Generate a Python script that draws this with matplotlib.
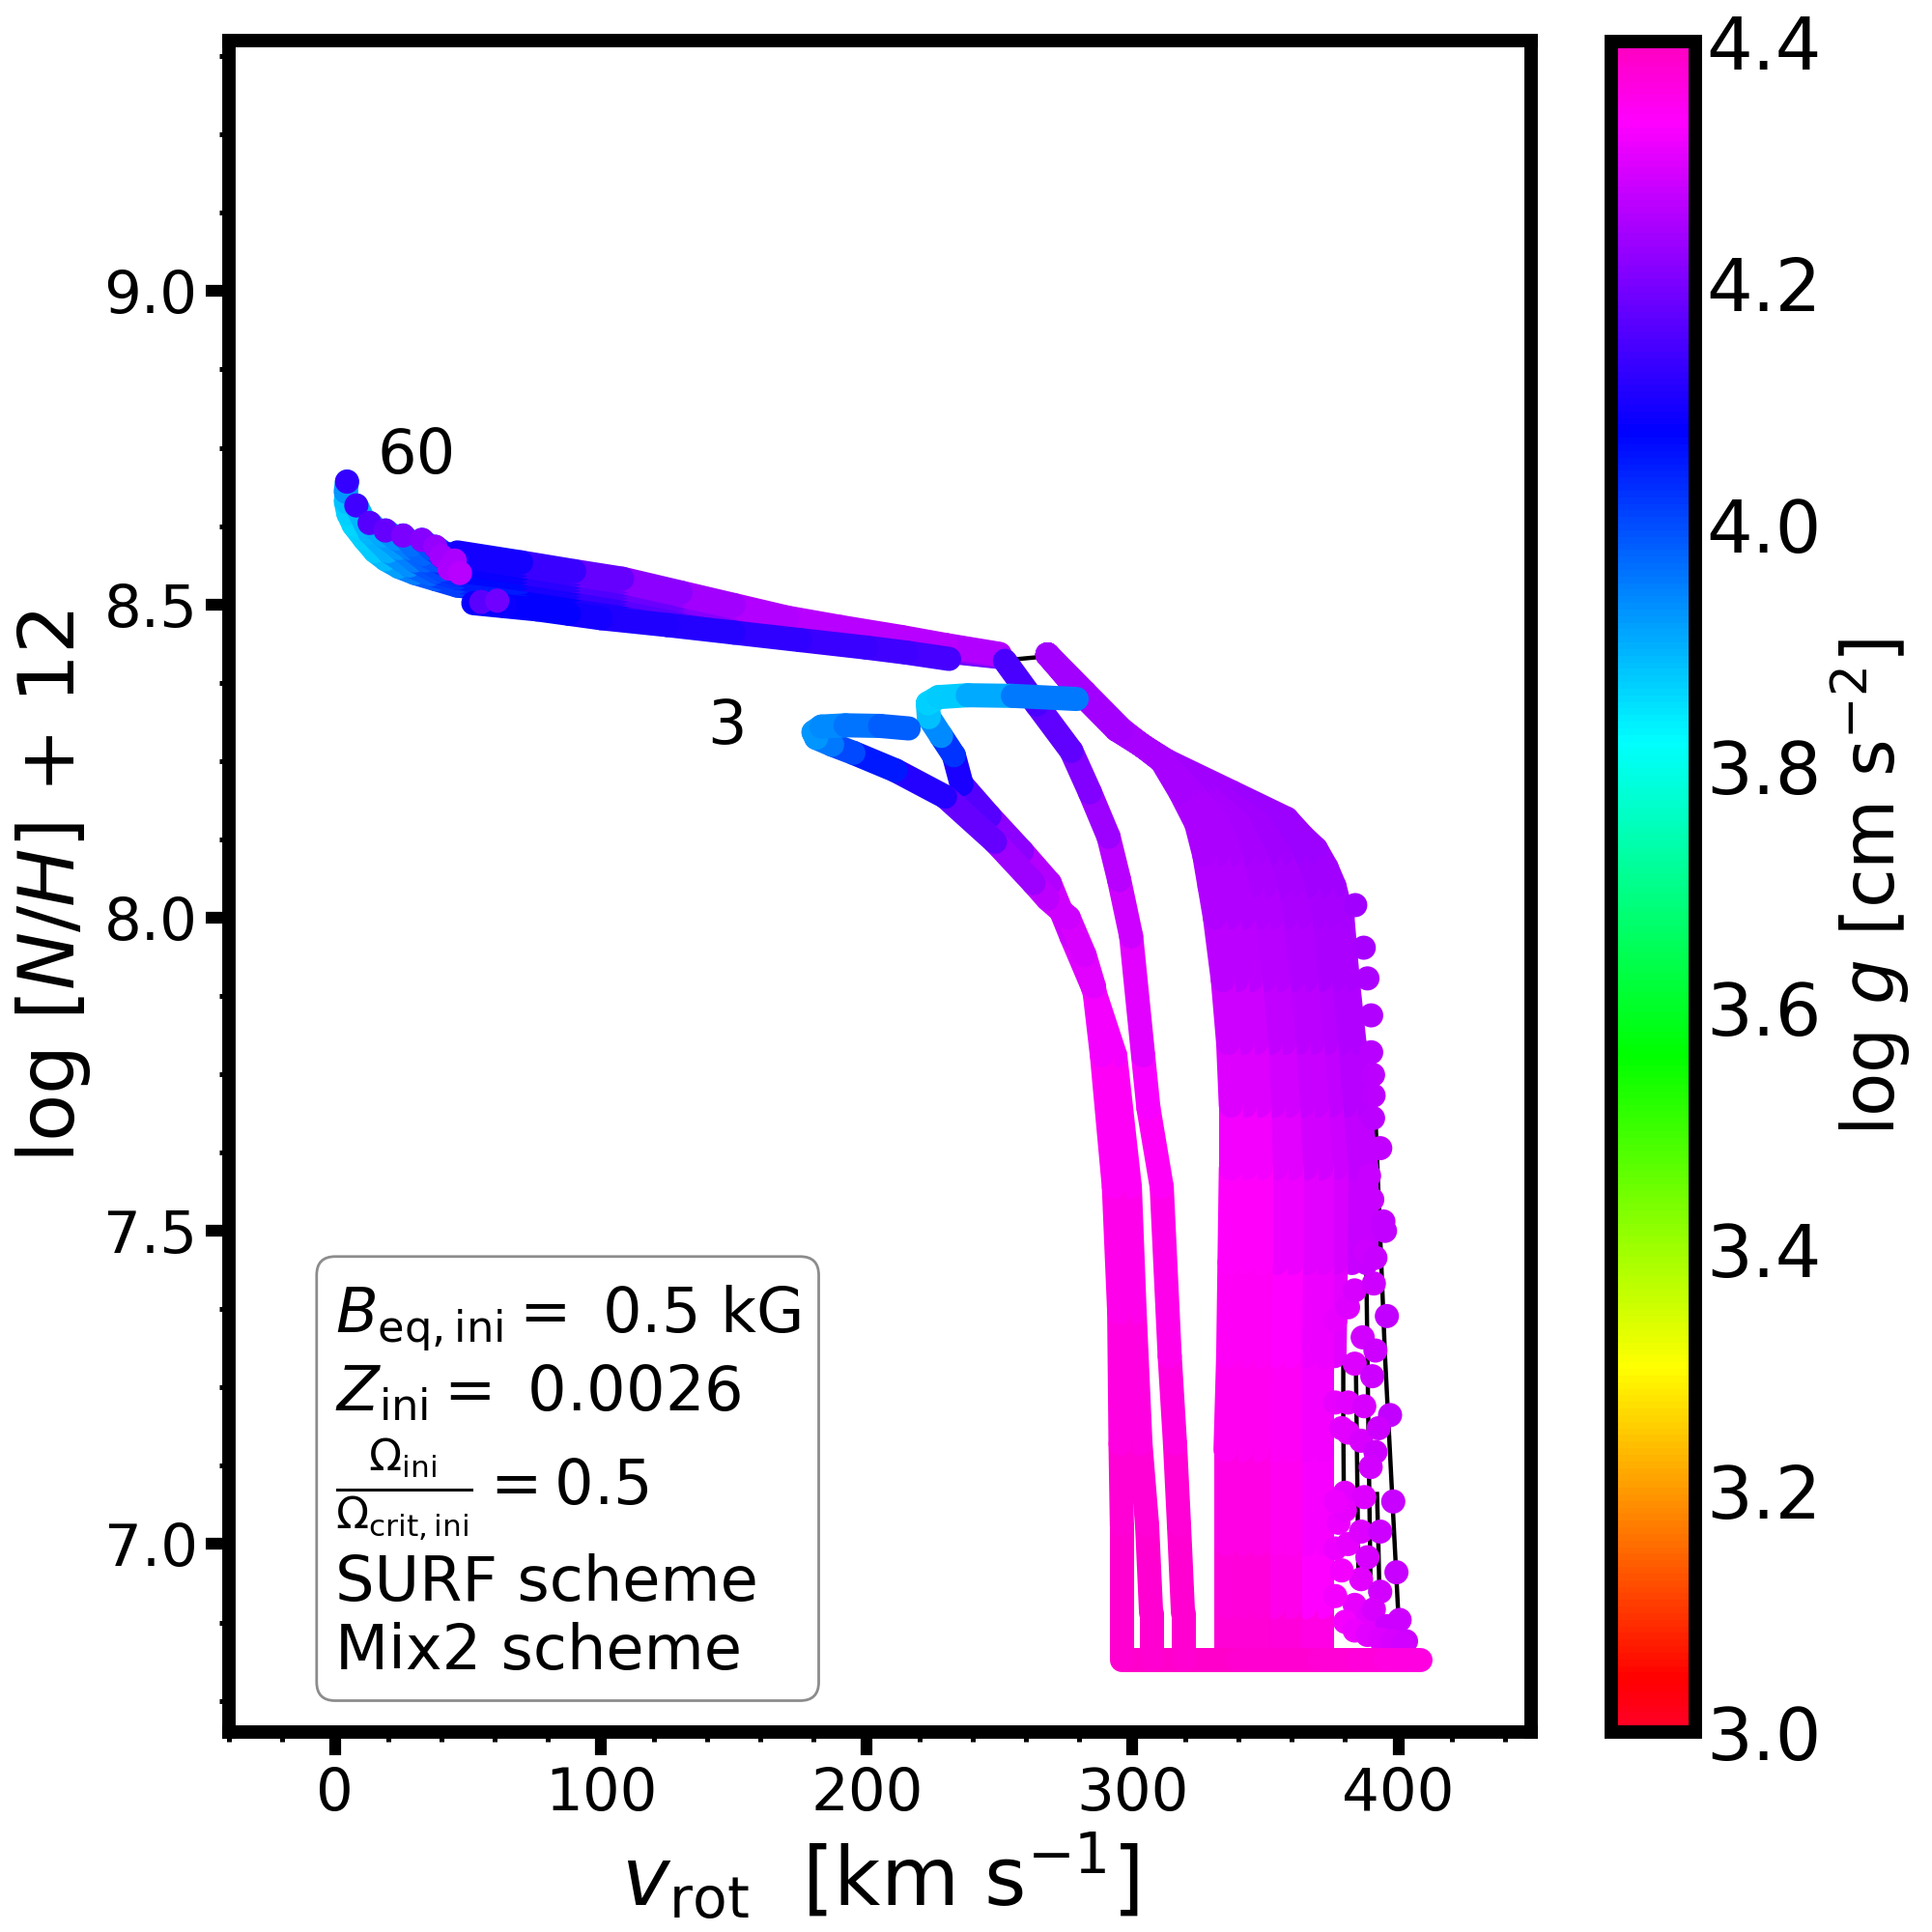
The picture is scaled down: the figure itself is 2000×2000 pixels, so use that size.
import numpy as np
import matplotlib
matplotlib.use("Agg")
import matplotlib.pyplot as plt
from matplotlib.collections import LineCollection
from matplotlib.ticker import MultipleLocator
from matplotlib.colors import Normalize
from matplotlib.cm import ScalarMappable

# ---- low-mass tracks -------------------------------------------------
t_a_v = [296,296,296,295.5,295,293,288.5,285.5,282,276,268,262.8,248.3,229.5,210.8,195,187,181,180,183,192,205,215.8]
t_a_n = [6.815,6.89,7.03,7.16,7.37,7.57,7.78,7.89,7.94,8.0,8.03,8.055,8.121,8.193,8.235,8.263,8.276,8.287,8.296,8.305,8.307,8.306,8.302]
t_a_g = [4.385,4.38,4.38,4.37,4.36,4.35,4.33,4.31,4.30,4.29,4.275,4.26,4.21,4.15,4.08,4.03,3.98,3.93,3.92,3.93,3.95,3.97,3.99]
t_b_v = [307,307,305.5,303,300.8,299,293.5,285,277,268.9,258.4,246.2,235.7,232.8,228,223.4,223,227,238,255,279]
t_b_n = [6.815,6.89,7.03,7.16,7.37,7.57,7.78,7.89,7.97,8.055,8.106,8.162,8.213,8.259,8.29,8.32,8.342,8.352,8.355,8.354,8.349]
t_b_g = [4.385,4.38,4.38,4.37,4.36,4.35,4.33,4.31,4.29,4.27,4.24,4.19,4.13,4.07,3.98,3.9,3.87,3.86,3.88,3.93,3.98]
t_c_v = [319,319,317.5,316,314,311,306,304,299.5,295,291,284,277,264,252]
t_c_n = [6.815,6.89,7.03,7.16,7.30,7.57,7.696,7.78,7.97,8.06,8.129,8.2,8.266,8.34,8.41]
t_c_g = [4.385,4.38,4.38,4.37,4.36,4.35,4.33,4.32,4.29,4.27,4.25,4.22,4.19,4.16,4.14]

# ---- massive tracks: main-sequence block ----------------------------
block_n = [6.815,6.9,7.0,7.15,7.3,7.45,7.6,7.7,7.8,7.9,8.0,8.05,8.1,8.15,8.2,8.25,8.3,8.36,8.42]
b0_v = [335,335,335,335,336,336.5,337,337,336,334,331,329,327,324,318,311,296,282,268]
b1_v = [341,341,341,341,341.5,342.4,342.7,342.4,341.3,339.2,336.3,334.2,331.8,328,320.2,311.2,295.8,281.8,268]
b2_v = [347,347,347,347,347.5,348.3,348.3,347.8,346.6,344.4,341.7,339.4,336.6,332,322.3,311.4,295.6,281.6,268]
b3_v = [353,353,353,353,353,354,354,353.2,351.8,349.7,347,344.7,341.3,336,324.5,311.7,295.3,281.3,268]
b4_v = [359,359,359,359,359,359.7,359.7,358.6,357.1,354.9,352.3,349.9,346.1,340,326.7,311.9,295.1,281.1,268]
b5_v = [365,365,365,365,365,365.3,365.3,364,362.4,360.1,357.7,355.1,350.9,344,328.8,312.1,294.9,280.9,268]
b6_v = [371,371,371,371,371,371,371,369.3,367.7,365.3,363,360.3,355.7,348,331,312.3,294.7,280.7,268]
g_low = [4.385,4.37,4.365,4.355,4.345,4.34,4.33,4.31,4.29,4.27,4.26,4.255,4.25,4.25,4.245,4.245,4.24,4.24,4.24]
g_mid = [4.385,4.36,4.35,4.345,4.335,4.325,4.31,4.295,4.28,4.265,4.255,4.25,4.245,4.245,4.24,4.24,4.24,4.24,4.24]
g_high = [4.38,4.335,4.33,4.325,4.32,4.31,4.295,4.285,4.27,4.26,4.25,4.245,4.24,4.24,4.24,4.24,4.24,4.24,4.24]
upper_n = [7.3,7.45,7.6,7.7,7.8,7.9,8.0,8.05,8.1,8.15,8.2,8.25,8.3,8.36,8.42]
b7_v = [376,376.5,376.7,374.7,372.9,370.6,368.3,365.6,360.4,352,333.2,312.5,294.5,280.5,268]
g_upper = [4.31,4.3,4.285,4.275,4.265,4.255,4.245,4.24,4.235,4.235,4.235,4.24,4.24,4.24,4.24]
top_n = [7.45,7.6,7.7,7.8,7.9,8.0,8.05,8.1,8.15,8.2,8.25,8.3,8.36,8.42]
b8_v = [382.3,382.3,380.1,378.2,375.8,373.7,370.8,365.2,356,335.3,312.8,294.2,280.2,268]
g_top = [4.28,4.275,4.265,4.26,4.25,4.245,4.24,4.235,4.235,4.235,4.24,4.24,4.24,4.24]
b9_v = [388,388,385.5,383.5,381,379,376,373,369,364,358,337.5,313,294,280,268]
b9_n = [7.45,7.6,7.7,7.8,7.9,8.0,8.05,8.08,8.11,8.13,8.158,8.2,8.25,8.3,8.36,8.42]
b9_g = [4.28,4.275,4.265,4.26,4.25,4.245,4.24,4.238,4.235,4.235,4.235,4.235,4.24,4.24,4.24,4.24]

# ---- massive tracks: post-main-sequence strip -----------------------
strip_v = [250,230,213,190,170,150,130,108,90,70,46]
s0_n = [8.421,8.435,8.448,8.464,8.479,8.499,8.519,8.541,8.553,8.567,8.583]
s1_n = [8.420,8.434,8.447,8.462,8.477,8.496,8.515,8.536,8.548,8.562,8.577]
s2_n = [8.420,8.433,8.445,8.460,8.475,8.493,8.511,8.531,8.543,8.556,8.571]
s3_n = [8.419,8.432,8.444,8.458,8.473,8.490,8.507,8.526,8.538,8.551,8.565]
s4_n = [8.419,8.431,8.442,8.456,8.471,8.487,8.503,8.521,8.533,8.546,8.559]
s5_n = [8.418,8.430,8.441,8.455,8.469,8.484,8.500,8.517,8.528,8.541,8.554]
s6_n = [8.418,8.428,8.439,8.453,8.466,8.481,8.496,8.512,8.523,8.535,8.548]
s7_n = [8.417,8.427,8.438,8.451,8.464,8.478,8.492,8.507,8.518,8.530,8.542]
s8_n = [8.417,8.426,8.437,8.449,8.462,8.475,8.488,8.502,8.513,8.525,8.536]
s9_n = [8.416,8.425,8.435,8.447,8.460,8.472,8.484,8.497,8.508,8.519,8.530]
strip_g_a = [4.25,4.26,4.26,4.26,4.26,4.25,4.23,4.2,4.16,4.11,4.08]
strip_g_b = [4.24,4.245,4.245,4.24,4.235,4.22,4.2,4.17,4.14,4.10,4.07]
strip_g_c = [4.22,4.22,4.22,4.215,4.21,4.2,4.18,4.15,4.12,4.08,4.06]
strip_g_d = [4.2,4.2,4.195,4.19,4.18,4.17,4.15,4.12,4.09,4.07,4.04]
strip_g_e = [4.18,4.175,4.17,4.16,4.15,4.14,4.115,4.09,4.07,4.05,4.03]

tail1_v, tail1_n, tail1_g = [43], [8.58], [4.07]
tail2_v, tail2_n, tail2_g = [40], [8.577], [4.05]
tail3_v, tail3_n, tail3_g = [42,37.7], [8.578,8.592], [4.04,4.02]
tail4_v, tail4_n, tail4_g = [40,36,32.7], [8.578,8.59,8.603], [4.03,4.0,3.99]
tail5_v, tail5_n, tail5_g = [38,33,29,25.6], [8.57,8.58,8.595,8.61], [4.01,3.98,3.97,3.96]
tail6_v, tail6_n, tail6_g = [40,34,28,23,19], [8.555,8.57,8.59,8.605,8.618], [4.02,3.99,3.96,3.94,3.93]
tail7_v, tail7_n, tail7_g = [38,30,24,18,13], [8.552,8.57,8.59,8.61,8.63], [4.01,3.97,3.93,3.91,3.9]
tail8_v, tail8_n, tail8_g = [36,28,20,13,8], [8.548,8.562,8.585,8.615,8.658], [4.0,3.95,3.91,3.89,3.9]
tail9_v = [38,30,24,19,15,11,7,5,4,4,4.5]
tail9_n = [8.54,8.55,8.56,8.572,8.585,8.605,8.627,8.645,8.665,8.68,8.696]
tail9_g = [4.0,3.97,3.93,3.9,3.88,3.87,3.86,3.86,3.87,3.9,3.95]

low_v = [231,215,200,175,150,125,100,88,76,64,52]
low_n = [8.413,8.423,8.431,8.443,8.455,8.467,8.478,8.485,8.492,8.497,8.502]
low_g = [4.15,4.145,4.14,4.13,4.12,4.11,4.10,4.09,4.075,4.08,4.09]

# ---- zero-age band at the base --------------------------------------
zams_v = [297,310,325,340,355,370,385,395,408]
zams_n = [6.815,6.815,6.815,6.815,6.815,6.815,6.815,6.815,6.815]
zams_g = [4.385,4.385,4.385,4.385,4.38,4.38,4.375,4.37,4.36]

# ---- isolated model points ------------------------------------------
end_v = [4.5,8,13,19,25.6,32.7,37.7,40,43,45,47,55,61]
end_n = [8.696,8.658,8.63,8.618,8.61,8.603,8.592,8.577,8.557,8.57,8.55,8.504,8.506]
end_g = [4.13,4.14,4.16,4.18,4.2,4.21,4.23,4.24,4.25,4.25,4.26,4.17,4.19]
edge_v = [376.3,376.3,377.5,376.3,379.9,379.9,381.1,381.1,381.1,381.1,378.7,383.6,383.6,383.6,
          386,386,386,386.6,387.2,387.2,387.8,388.4,388.4,
          390.5,390.5,393.2,389,390.2,394.4,395,391.4,390.8,395.7,391.4,390.2,396.9,392.6,391.4,389.6,
          398.1,393.2,399.3,393.2,390.8,395.7,400.5,402.9,
          383.8,387,388.4,389.8,389.8,390.7,
          380,383.6,388.4,393.2,398,401.7,376.3,376.3,378.7]
edge_n = [7.357,7.226,7.034,6.993,7.082,7.054,7.378,7.226,7.178,7.0,7.185,7.405,7.288,6.903,
          7.165,7.02,6.944,7.33,7.22,7.075,7.467,6.979,6.882,
          7.749,7.68,7.632,7.588,7.55,7.515,7.50,7.457,7.416,7.364,7.309,7.268,7.206,7.185,7.147,7.123,
          7.068,7.02,6.955,6.924,6.896,6.869,6.879,6.845,
          8.02,7.952,7.903,7.844,7.785,7.716,
          6.876,6.862,6.855,6.848,6.845,6.84,6.917,7.068,6.958]
edge_g = [4.31,4.31,4.315,4.315,4.305,4.31,4.30,4.305,4.305,4.31,4.305,4.295,4.30,4.31,
          4.295,4.30,4.305,4.29,4.295,4.30,4.285,4.295,4.305,
          4.265,4.265,4.27,4.275,4.275,4.27,4.27,4.275,4.28,4.27,4.28,4.28,4.27,4.28,4.285,4.29,
          4.275,4.285,4.275,4.29,4.295,4.285,4.28,4.285,
          4.24,4.245,4.25,4.255,4.26,4.265,
          4.32,4.315,4.305,4.30,4.295,4.29,4.32,4.315,4.32]

# ---- thin black evolutionary lines ----------------------------------
line_a_v = [391.4,395,399.9]
line_a_n = [7.68,7.3,6.896]
line_b_v = [387.8,388.7,389.6]
line_b_n = [7.495,7.2,6.924]
line_c_v = [384,384.5,385]
line_c_n = [7.3,7.13,6.95]
line_d_v = [379.3,379.3,379.5]
line_d_n = [7.357,7.2,7.08]
line_e_v = [392,392.5,393]
line_e_n = [7.08,7.0,6.9]
line_f_v = [233,250,265]
line_f_n = [8.42,8.41,8.416]

x_ticks = [0,100,200,300,400]
y_ticks = [7.0,7.5,8.0,8.5,9.0]
cbar_ticks = [3.0,3.2,3.4,3.6,3.8,4.0,4.2,4.4]

LW = 9
norm = Normalize(3.0, 4.4)
cmap = plt.get_cmap("gist_rainbow")

fig = plt.figure(figsize=(10, 10), dpi=200)
ax = fig.add_axes([0.1184, 1-1793/2000, (1585-236.7)/2000, (1793-42)/2000])


def thick(v, n, g, z):
    v, n, g = map(np.asarray, (v, n, g))
    pts = np.column_stack([v, n])
    segs = np.stack([pts[:-1], pts[1:]], axis=1)
    lc = LineCollection(segs, cmap=cmap, norm=norm, linewidths=LW,
                        capstyle="round", joinstyle="round", zorder=z)
    lc.set_array(0.5 * (g[:-1] + g[1:]))
    ax.add_collection(lc)


for lv, ln in [(line_a_v, line_a_n), (line_b_v, line_b_n), (line_c_v, line_c_n),
               (line_d_v, line_d_n), (line_e_v, line_e_n), (line_f_v, line_f_n)]:
    ax.plot(lv, ln, color="k", lw=1.6, zorder=1)

blocks = [(b9_v, b9_n, b9_g), (b8_v, top_n, g_top), (b7_v, upper_n, g_upper),
          (b6_v, block_n, g_high), (b5_v, block_n, g_high), (b4_v, block_n, g_mid),
          (b3_v, block_n, g_mid), (b2_v, block_n, g_low), (b1_v, block_n, g_low),
          (b0_v, block_n, g_low)]
z = 3
for v, n, g in blocks:
    thick(v, n, g, z)
    z += 0.01
ax.scatter(edge_v, edge_n, c=edge_g, cmap=cmap, norm=norm, s=81, lw=0, zorder=3.5)

strips = [(s9_n, strip_g_e, tail9_v, tail9_n, tail9_g), (s8_n, strip_g_e, tail8_v, tail8_n, tail8_g),
          (s7_n, strip_g_d, tail7_v, tail7_n, tail7_g), (s6_n, strip_g_d, tail6_v, tail6_n, tail6_g),
          (s5_n, strip_g_c, tail5_v, tail5_n, tail5_g), (s4_n, strip_g_c, tail4_v, tail4_n, tail4_g),
          (s3_n, strip_g_b, tail3_v, tail3_n, tail3_g), (s2_n, strip_g_b, tail2_v, tail2_n, tail2_g),
          (s1_n, strip_g_a, tail1_v, tail1_n, tail1_g), (s0_n, strip_g_a, [], [], [])]
z = 4
thick(low_v, low_n, low_g, 4.5)
for n, g, tv, tn, tg in strips:
    thick(strip_v + tv, n + tn, g + tg, z)
    z += 0.01

ax.scatter(end_v, end_n, c=end_g, cmap=cmap, norm=norm, s=81, lw=0, zorder=5)
thick(zams_v, zams_n, zams_g, 5.5)
thick(t_c_v, t_c_n, t_c_g, 6)
thick(t_b_v, t_b_n, t_b_g, 6.1)
thick(t_a_v, t_a_n, t_a_g, 6.2)

ax.set_xlim(-40, 450)
ax.set_ylim(6.7, 9.4)
ax.set_xticks(x_ticks)
ax.set_yticks(y_ticks)
ax.set_yticklabels(["%.1f" % t for t in y_ticks])
ax.xaxis.set_minor_locator(MultipleLocator(20))
ax.yaxis.set_minor_locator(MultipleLocator(0.125))
ax.tick_params(which="major", length=8.6, width=4.4, labelsize=22)
ax.tick_params(which="minor", length=3.6, width=1.8)
ax.tick_params(axis="x", which="major", pad=4)
ax.tick_params(axis="y", which="major", pad=3)
for s in ax.spines.values():
    s.set_linewidth(5)

ax.set_xlabel(r"$v_{\rm rot}$  [km s$^{-1}$]", fontsize=30, labelpad=3)
ax.set_ylabel(r"log [$N/H$] + 12", fontsize=29, labelpad=4)

box_text = (r"$B_{\rm eq,ini} =$ 0.5 kG" + "\n" + r"$Z_{\rm ini} =$ 0.0026" + "\n"
            + r"$\frac{\Omega_{\rm ini}}{\Omega_{\rm crit,ini}} = 0.5$" + "\n"
            + "SURF scheme\nMix2 scheme")
ax.text(0.0817, 0.0295, box_text, transform=ax.transAxes, fontsize=23, va="bottom", ha="left",
        zorder=8, bbox=dict(boxstyle="round,pad=0.3", fc="white", ec="gray", alpha=0.9, lw=1))
ax.text(16, 8.737, "60", fontsize=23, ha="left", va="center", zorder=8)
ax.text(140, 8.305, "3", fontsize=23, ha="left", va="center", zorder=8)

cax = fig.add_axes([1668/2000, 1-1793/2000, 87/2000, (1793-43)/2000])
cb = fig.colorbar(ScalarMappable(norm=norm, cmap=cmap), cax=cax)
cb.set_ticks(cbar_ticks)
cb.set_ticklabels(["%.1f" % t for t in cbar_ticks])
cb.ax.tick_params(length=0, labelsize=27, pad=4)
cb.outline.set_linewidth(5)
cb.set_label(r"log $g$ [cm s$^{-2}$]", fontsize=26.7, labelpad=2.5)

fig.savefig("out.png", dpi=200)
